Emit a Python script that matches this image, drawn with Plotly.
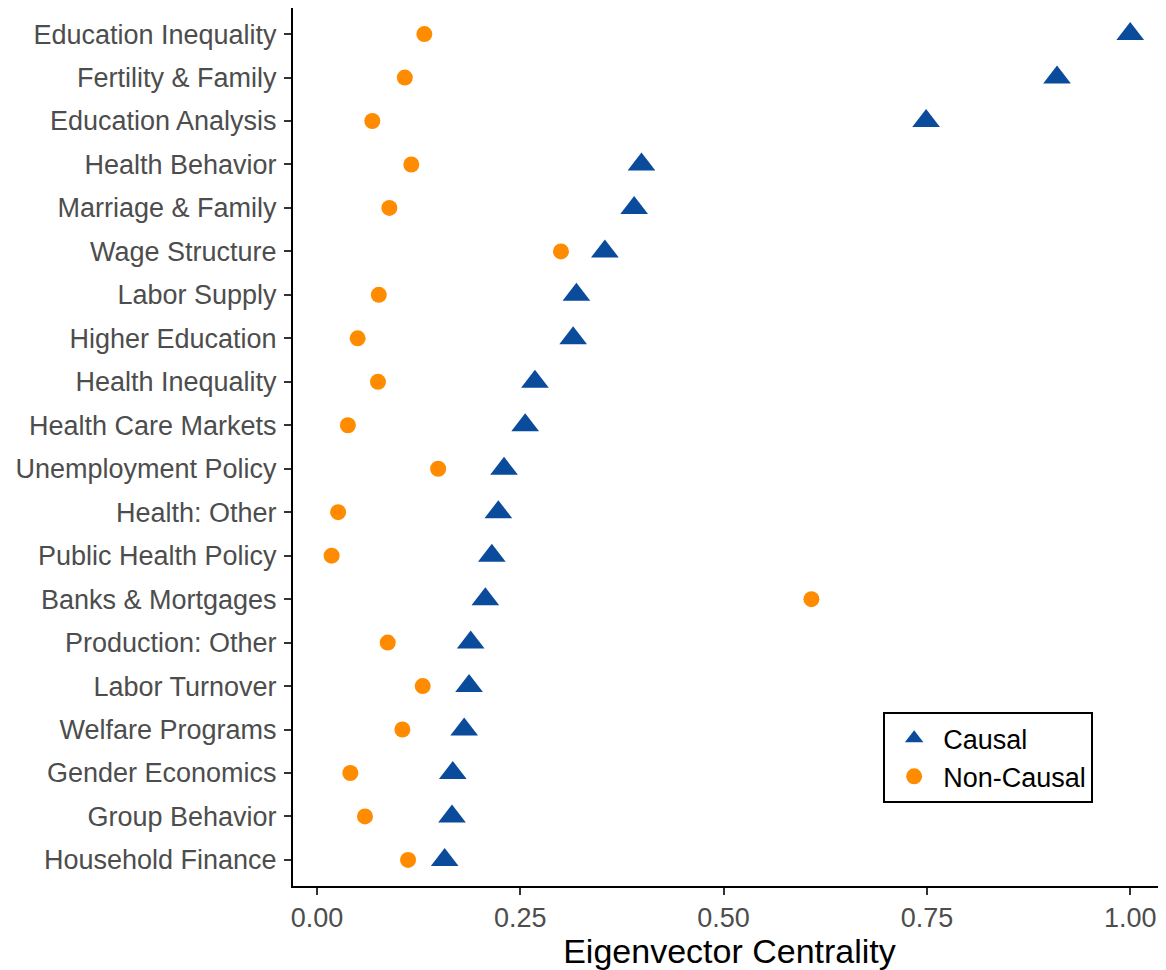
import plotly.graph_objects as go

categories = [
    "Education Inequality", "Fertility & Family", "Education Analysis", "Health Behavior",
    "Marriage & Family", "Wage Structure", "Labor Supply", "Higher Education",
    "Health Inequality", "Health Care Markets", "Unemployment Policy", "Health: Other",
    "Public Health Policy", "Banks & Mortgages", "Production: Other", "Labor Turnover",
    "Welfare Programs", "Gender Economics", "Group Behavior", "Household Finance",
]
causal = [1.000, 0.910, 0.749, 0.399, 0.390, 0.354, 0.319, 0.315, 0.268, 0.256,
          0.230, 0.223, 0.215, 0.207, 0.189, 0.187, 0.181, 0.167, 0.166, 0.157]
non_causal = [0.132, 0.108, 0.068, 0.116, 0.089, 0.300, 0.076, 0.050, 0.075, 0.038,
              0.149, 0.026, 0.018, 0.608, 0.087, 0.130, 0.105, 0.041, 0.059, 0.112]
x_ticks = [0.0, 0.25, 0.5, 0.75, 1.0]

BLUE = "#0B4B9B"
ORANGE = "#FF8C00"
FONT = "Liberation Sans, Arial, sans-serif"

fig = go.Figure()
fig.add_trace(go.Scatter(
    x=causal, y=categories, mode="markers", name="Causal",
    marker=dict(symbol="triangle-up", size=24, color=BLUE, line=dict(width=0)),
))
fig.add_trace(go.Scatter(
    x=non_causal, y=categories, mode="markers", name="Non-Causal",
    marker=dict(symbol="circle", size=16, color=ORANGE, line=dict(width=0)),
))

n = len(categories)
fig.update_layout(
    width=1158, height=962,
    margin=dict(l=285, r=0, t=0, b=84, autoexpand=False),
    paper_bgcolor="white", plot_bgcolor="white",
    font=dict(family=FONT, color="black"),
    showlegend=True,
    legend=dict(
        x=0.676, y=0.198, xanchor="left", yanchor="top",
        bordercolor="black", borderwidth=2, bgcolor="white",
        font=dict(size=27, color="black", family=FONT),
        tracegroupgap=0, itemwidth=48, entrywidth=213,
    ),
    xaxis=dict(
        range=[-0.0295, 1.044], tickvals=x_ticks, tickformat=".2f",
        showline=True, linecolor="black", linewidth=2,
        ticks="outside", ticklen=7, tickwidth=2, tickcolor="#333333",
        tickfont=dict(size=27, color="#4D4D4D", family=FONT),
        showgrid=False, zeroline=False, automargin=False,
        title=dict(text="Eigenvector Centrality", font=dict(size=34, color="black", family=FONT), standoff=0),
    ),
    yaxis=dict(
        type="category", categoryorder="array", categoryarray=categories,
        range=[n - 1 + 0.6, -0.6],
        showline=True, linecolor="black", linewidth=2,
        ticks="outside", ticklen=7, tickwidth=2, tickcolor="#333333",
        tickfont=dict(size=27, color="#4D4D4D", family=FONT),
        ticklabelstandoff=2, automargin=False,
        showgrid=False, zeroline=False,
    ),
)

fig.write_html("out.html")
